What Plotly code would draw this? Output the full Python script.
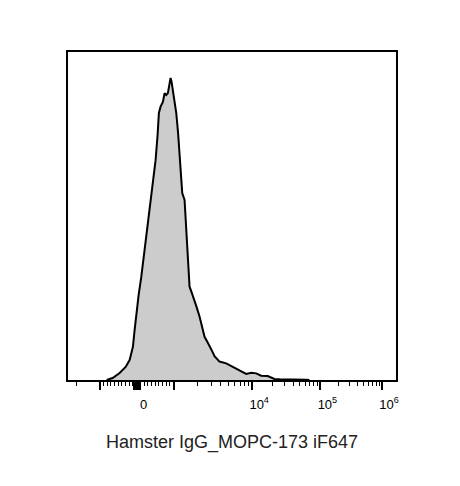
import plotly.graph_objects as go
import math

# ---- data: histogram (display channel units 0-1000, % of mode) ----
channel = [118.0, 124.0, 136.1, 157.4, 175.7, 187.9, 197.9, 203.1, 208.3, 215.3,
           223.5, 230.5, 238.7, 245.7, 254.0, 261.0, 267.0, 273.1, 277.1, 282.3,
           289.3, 294.5, 299.6, 304.5, 309.7, 312.7, 315.8, 319.7, 324.9, 330.1,
           335.6, 340.1, 344.7, 348.3, 355.4, 359.9, 362.4, 366.0, 370.6, 376.7,
           385.8, 391.9, 401.0, 411.1, 416.3, 426.3, 431.5, 440.6, 446.7, 461.9,
           482.3, 502.4, 516.7, 528.0, 543.2, 558.5, 573.7, 588.9, 609.0, 629.4,
           644.6, 725.9, 736.0]
pct_max = [0.0, 0.17, 0.66, 2.3, 4.3, 6.6, 11.0, 16.6, 22.2, 28.1,
           34.2, 40.4, 46.4, 53.0, 59.6, 66.2, 72.8, 81.1, 88.4, 90.5,
           92.1, 95.0, 94.4, 95.0, 98.3, 100.0, 98.7, 96.0, 92.7, 88.4,
           81.8, 75.2, 67.9, 61.9, 59.6, 49.7, 44.1, 38.1, 30.9, 29.1,
           26.5, 24.2, 21.0, 16.6, 14.3, 12.3, 11.0, 9.3, 7.9, 6.1,
           5.5, 4.4, 3.6, 3.1, 2.0, 2.4, 2.2, 1.4, 1.3, 0.33,
           0.23, 0.1, 0.0]

# ---- axis scale (biexponential display): anchor values -> channel ----
anchor_vals = [-1000, 0, 1000, 1e4, 1e5, 1e6]
anchor_chan = [98.7, 209.2, 321.9, 561.5, 769.5, 957.4]

major_vals = [-1000, 0, 1000, 1e4, 1e5, 1e6]
major_text = ["", "0", "", "10<sup>4</sup>", "10<sup>5</sup>", "10<sup>6</sup>"]
zero_cluster_vals = [-100, -80, -60, -40, -20, 20, 40, 60, 80, 100]
minor_vals = ([-2000] + [-k * 100 for k in range(1, 10)] + [k * 100 for k in range(1, 10)]
              + [k * 1000 for k in range(2, 10)] + [k * 1e4 for k in range(2, 10)]
              + [k * 1e5 for k in range(2, 10)])


def to_channel(v):
    if -1000 <= v <= 1000:
        return anchor_chan[1] + v * (anchor_chan[2] - anchor_chan[1]) / 1000.0
    if v < -1000:
        w = anchor_chan[3] - anchor_chan[2]
        return anchor_chan[0] - math.log10(-v / 1000.0) * w
    for i in range(2, len(anchor_vals) - 1):
        lo, hi = anchor_vals[i], anchor_vals[i + 1]
        if lo <= v <= hi:
            f = math.log10(v / lo) / math.log10(hi / lo)
            return anchor_chan[i] + f * (anchor_chan[i + 1] - anchor_chan[i])
    return anchor_chan[-1]


tickvals = [to_channel(v) for v in major_vals] + [to_channel(v) for v in zero_cluster_vals]
ticktext = major_text + [""] * len(zero_cluster_vals)
minor_tickvals = [to_channel(v) for v in minor_vals]

fig = go.Figure()
fig.add_trace(go.Scatter(
    x=channel, y=pct_max, mode="lines",
    line=dict(color="black", width=2),
    fill="tozeroy", fillcolor="#cccccc",
    hoverinfo="skip", showlegend=False,
))

fig.update_layout(
    width=460, height=486,
    margin=dict(l=60, r=71.6, t=44, b=114),
    paper_bgcolor="white", plot_bgcolor="white",
    font=dict(family="Liberation Sans, Arial, sans-serif", color="black"),
    xaxis=dict(
        range=[0, 1000], showgrid=False, zeroline=False,
        showline=True, linecolor="black", linewidth=2, mirror=True,
        tickmode="array", tickvals=tickvals, ticktext=ticktext,
        ticks="outside", ticklen=8, tickwidth=2, tickcolor="black",
        tickangle=0,
        ticklabelshift=7, ticklabelstandoff=3,
        tickfont=dict(size=13, color="black"),
        minor=dict(tickmode="array", tickvals=minor_tickvals, ticks="outside",
                   ticklen=4, tickwidth=1, tickcolor="black", showgrid=False),
        title=dict(text="Hamster IgG_MOPC-173 iF647", font=dict(size=18, color="#222222"),
                   standoff=25),
    ),
    yaxis=dict(
        range=[0, 108.6], showgrid=False, zeroline=False,
        showline=True, linecolor="black", linewidth=2, mirror=True,
        showticklabels=False, ticks="",
    ),
)

fig.write_html("out.html")
